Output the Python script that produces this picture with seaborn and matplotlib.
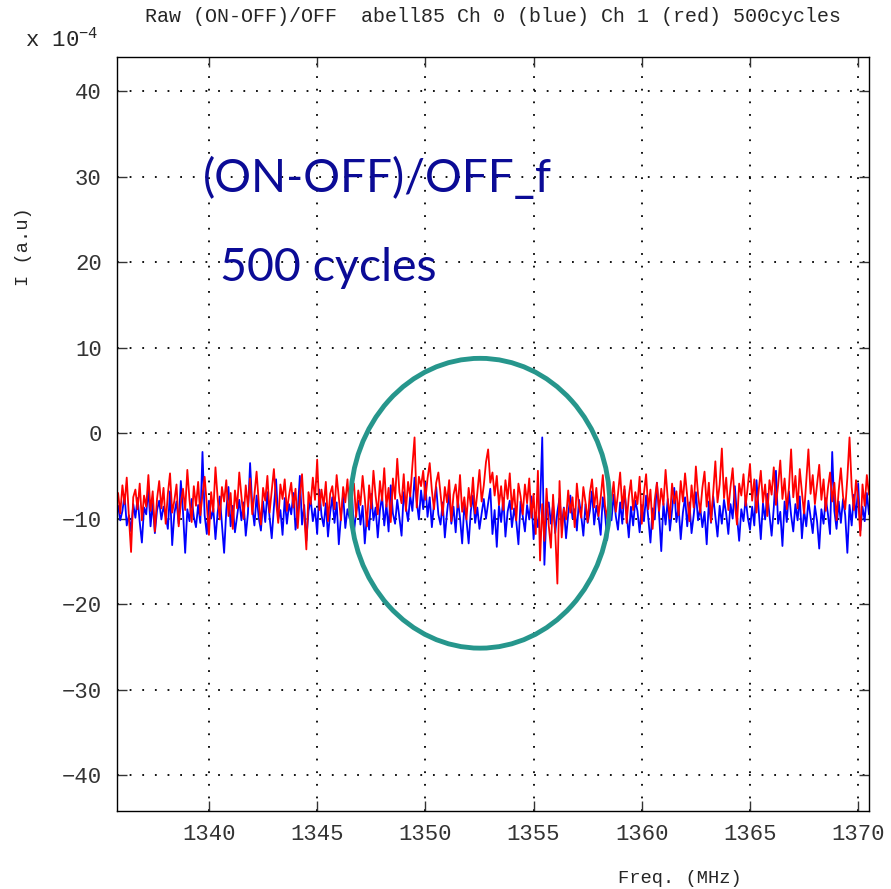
import numpy as np
import matplotlib
matplotlib.use("Agg")
import matplotlib.pyplot as plt
from matplotlib.patches import Ellipse
import seaborn as sns

# channel grid of the spectrum (MHz)
freq_start = 1335.8
freq_step = 0.1

# Ch 0, (ON-OFF)/OFF in units of 1e-4, one row per MHz
ch0_blue = [
    -8.5, -10.2, -9.1, -7.2, -10.8, -9.6, -11.5, -8.3, -9.9, -7.6,
    -10.4, -12.8, -8.7, -9.5, -6.4, -10.9, -8.2, -11.7, -9.0, -7.9,
    -10.1, -8.6, -9.7, -11.2, -6.8, -13.1, -9.4, -8.0, -10.6, -5.6,
    -9.2, -14.0, -8.9, -10.3, -7.7, -9.8, -11.0, -8.4, -10.5, -2.2,
    -9.6, -11.8, -7.9, -10.0, -8.8, -12.4, -9.3, -7.4, -10.7, -14.0,
    -9.0, -6.3, -10.9, -8.5, -11.6, -9.7, -7.8, -10.2, -8.1, -12.0,
    -9.4, -3.5, -8.6, -10.8, -7.3, -9.9, -11.4, -8.0, -10.4, -6.9,
    -9.8, -12.3, -8.7, -5.4, -10.1, -9.0, -11.9, -7.6, -10.6, -8.3,
    -9.5, -7.0, -11.3, -9.2, -5.0, -10.7, -8.4, -12.6, -9.1, -7.7,
    -10.3, -8.8, -11.8, -6.6, -9.6, -10.9, -8.2, -12.1, -9.3, -7.5,
    -10.5, -8.1, -13.0, -9.7, -7.2, -11.1, -8.9, -10.0, -6.8, -11.6,
    -9.2, -7.9, -10.7, -8.5, -12.9, -9.6, -11.3, -7.1, -10.2, -8.7,
    -12.2, -9.0, -7.4, -10.8, -8.3, -11.5, -6.1, -9.4, -10.6, -7.8,
    -9.9, -12.0, -6.9, -8.6, -10.3, -7.3, -9.1, -5.2, -8.0, -10.1,
    -6.7, -8.9, -5.8, -9.8, -7.5, -11.0, -8.2, -6.3, -9.5, -10.7,
    -8.1, -12.2, -9.3, -7.0, -10.6, -8.6, -11.6, -7.8, -9.9, -12.9,
    -8.4, -10.2, -12.9, -9.1, -7.3, -10.5, -8.7, -11.2, -9.4, -7.7,
    -10.0, -8.2, -6.5, -11.8, -9.0, -13.3, -8.5, -10.4, -7.6, -12.1,
    -9.2, -7.9, -11.0, -8.8, -10.3, -13.0, -8.0, -9.7, -11.5, -8.4,
    -10.1, -7.4, -12.4, -9.3, -11.0, -8.6, -0.5, -15.4, -9.0, -8.1,
    -10.6, -8.4, -11.7, -9.2, -7.6, -10.9, -8.7, -12.3, -9.5, -7.3,
    -10.0, -8.9, -11.4, -7.8, -9.6, -12.0, -8.3, -10.5, -9.1, -6.8,
    -10.7, -8.5, -9.8, -11.9, -7.5, -9.3, -12.5, -8.8, -10.2, -7.2,
    -9.7, -11.3, -8.1, -10.6, -6.6, -9.4, -12.2, -8.6, -10.8, -7.9,
    -9.1, -11.6, -8.4, -10.3, -7.3, -9.9, -12.8, -8.8, -10.1, -5.8,
    -9.5, -13.8, -8.2, -10.7, -7.7, -11.4, -9.0, -6.4, -10.4, -8.6,
    -12.4, -9.3, -7.5, -10.9, -8.1, -11.7, -9.6, -6.9, -10.2, -8.7,
    -11.0, -9.2, -13.0, -8.0, -10.5, -7.4, -9.8, -12.1, -8.5, -10.6,
    -7.8, -9.4, -11.8, -8.3, -10.0, -6.2, -9.7, -12.6, -8.9, -10.3,
    -7.6, -9.9, -11.3, -8.6, -10.8, -5.5, -9.0, -12.4, -8.2, -10.1,
    -7.1, -9.5, -12.0, -8.7, -4.4, -10.6, -9.2, -13.2, -8.0, -10.4,
    -6.8, -9.6, -11.5, -8.3, -10.2, -7.4, -12.3, -9.0, -10.9, -7.9,
    -9.8, -11.7, -8.5, -10.3, -13.5, -8.9, -10.6, -7.6, -9.4, -11.8,
    -2.2, -9.1, -11.2, -8.0, -10.5, -7.7, -9.6, -14.0, -8.4, -10.8,
    -7.2, -9.9, -5.9, -11.4, -8.6, -10.3, -7.0, -9.5,
]

# Ch 1, same channels
ch1_red = [
    -7.0, -9.4, -6.1, -8.3, -5.2, -9.8, -13.9, -7.5, -6.6, -8.9,
    -5.9, -10.2, -7.3, -8.6, -4.9, -9.1, -6.8, -11.5, -7.7, -5.6,
    -8.8, -6.4, -10.6, -7.1, -4.7, -9.3, -7.9, -6.0, -10.9, -8.2,
    -6.5, -9.0, -4.3, -7.8, -10.4, -6.2, -8.5, -5.7, -9.6, -7.2,
    -5.1, -8.4, -11.9, -6.9, -9.2, -4.0, -7.6, -10.1, -6.3, -8.0,
    -5.5, -9.7, -7.0, -11.2, -6.7, -8.8, -4.6, -7.4, -10.0, -6.1,
    -8.6, -5.3, -9.5, -7.2, -4.5, -8.1, -10.7, -6.4, -7.9, -5.0,
    -9.3, -6.8, -4.2, -8.0, -10.5, -6.0, -7.7, -5.4, -9.1, -7.3,
    -5.8, -8.7, -6.5, -11.1, -7.4, -4.8, -9.4, -13.6, -6.9, -8.3,
    -5.2, -7.8, -3.1, -9.0, -6.6, -8.5, -5.7, -10.3, -7.1, -6.2,
    -8.9, -4.9, -7.5, -10.2, -6.3, -8.1, -5.4, -9.3, -7.0, -5.9,
    -9.8, -6.7, -8.4, -5.0, -7.6, -10.9, -6.1, -8.8, -4.4, -7.3,
    -9.5, -5.6, -7.9, -4.1, -8.6, -6.4, -10.4, -5.3, -7.7, -3.0,
    -6.9, -8.2, -4.8, -9.1, -5.7, -7.4, -3.8, -0.5, -8.7, -5.1,
    -6.2, -4.4, -7.8, -5.3, -3.5, -6.7, -8.9, -5.8, -4.6, -7.1,
    -9.6, -6.3, -8.1, -5.5, -10.3, -7.2, -6.0, -8.7, -4.9, -9.2,
    -7.5, -10.1, -6.4, -8.6, -5.2, -9.4, -7.0, -4.3, -8.0, -6.1,
    -3.4, -1.9, -5.8, -4.6, -7.3, -5.0, -8.4, -6.2, -9.0, -5.5,
    -7.7, -4.7, -8.9, -6.6, -10.2, -5.9, -7.4, -9.5, -6.0, -8.2,
    -5.3, -9.9, -7.1, -11.8, -4.4, -14.9, -8.3, -12.6, -6.5, -10.8,
    -13.4, -7.2, -11.5, -17.6, -5.6, -12.2, -8.8, -10.1, -6.7, -9.3,
    -7.5, -11.0, -5.9, -8.6, -9.9, -6.3, -8.1, -10.4, -7.0, -5.4,
    -8.7, -6.4, -9.7, -7.6, -4.9, -8.4, -10.0, -6.8, -7.9, -5.7,
    -9.2, -7.1, -4.6, -8.8, -6.2, -10.5, -7.4, -5.5, -9.0, -6.9,
    -8.3, -5.1, -10.6, -7.0, -4.8, -8.9, -6.6, -11.2, -7.8, -5.8,
    -9.1, -6.5, -8.4, -4.3, -7.7, -10.0, -5.9, -8.2, -6.8, -9.6,
    -5.6, -8.0, -4.7, -7.4, -10.3, -6.1, -8.7, -3.9, -7.2, -9.3,
    -6.4, -4.5, -8.6, -5.8, -10.4, -7.0, -3.3, -8.1, -6.0, -1.8,
    -7.6, -5.2, -9.0, -6.3, -4.1, -8.2, -10.7, -5.9, -7.3, -4.8,
    -8.5, -6.2, -3.6, -7.9, -5.4, -9.3, -6.7, -4.4, -8.1, -6.0,
    -9.7, -5.5, -7.2, -4.0, -8.4, -6.1, -3.2, -7.7, -5.3, -8.9,
    -6.4, -1.9, -7.5, -5.0, -8.8, -4.2, -6.9, -9.4, -5.7, -1.9,
    -7.1, -4.9, -8.3, -6.0, -3.7, -7.8, -5.4, -9.1, -6.5, -4.6,
    -8.0, -5.8, -10.2, -6.7, -4.1, -7.4, -8.9, -5.2, -0.5, -6.3,
    -9.0, -5.5, -7.7, -12.0, -6.0, -8.5, -4.9, -7.2,
]

x_ticks = [1340, 1345, 1350, 1355, 1360, 1365, 1370]
y_ticks = [-40, -30, -20, -10, 0, 10, 20, 30, 40]

freq = freq_start + freq_step * np.arange(len(ch0_blue))

sns.set_style("ticks")
mono = "Liberation Mono"
plt.rcParams["font.family"] = [mono, "DejaVu Sans Mono"]
plt.rcParams["mathtext.default"] = "regular"

fig = plt.figure(figsize=(8.91, 8.89), dpi=100)
ax = fig.add_axes([117 / 891, 78 / 889, 752 / 891, 754 / 889])

sns.lineplot(x=freq, y=ch0_blue, color="#0000ff", lw=1.3, ax=ax, sort=False)
sns.lineplot(x=freq, y=ch1_red, color="#ff0000", lw=1.3, ax=ax, sort=False)

# highlight the region of interest
ax.add_patch(Ellipse((1352.53, -8.2), 11.97, 33.9, fill=False,
                     edgecolor="#26968c", lw=3.5, zorder=5))

ax.set_xlim(1335.75, 1370.5)
ax.set_ylim(-44.2, 44.0)
ax.set_xticks(x_ticks)
ax.set_yticks(y_ticks)
ax.grid(True, color="black", linestyle=(0, (1, 6)), lw=1.3)
ax.tick_params(direction="in", length=7, width=1, top=True, right=True,
               labelsize=16, colors="#333333", pad=9)
ax.tick_params(axis="y", pad=11)
for sp in ax.spines.values():
    sp.set_visible(True)
    sp.set_color("black")
    sp.set_linewidth(1.0)

ax.set_xlabel("Freq. (MHz)", fontsize=13.5)
ax.xaxis.set_label_coords(0.749, -0.078)
ax.set_ylabel("I (a.u)", fontsize=13.5)
ax.yaxis.set_label_coords(-0.113, 0.748)

fig.text(493 / 891, 1 - 17 / 889, "Raw (ON-OFF)/OFF  abell85 Ch 0 (blue) Ch 1 (red) 500cycles",
         ha="center", va="center", fontsize=14.45)
fig.text(25 / 891, 1 - 40 / 889, "x 10$^{-4}$", ha="left", va="center", fontsize=16)

ax.text(1339.7, 29.8, "(ON-OFF)/OFF_f", color="#0b0b96", fontsize=33,
        family=["Lato", "DejaVu Sans"], ha="left", va="center")
ax.text(1340.5, 19.3, "500 cycles", color="#0b0b96", fontsize=33.5,
        family=["Lato", "DejaVu Sans"], ha="left", va="center")

fig.savefig("out.png", dpi=100)
